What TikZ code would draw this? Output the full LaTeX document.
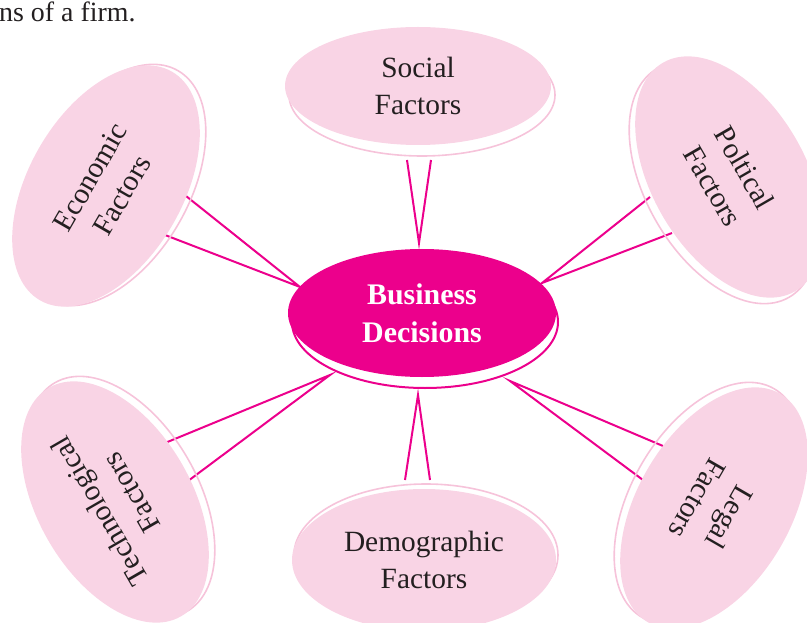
\documentclass[tikz,border=0pt]{standalone}
\usepackage{fontspec}
\setmainfont{Liberation Serif}
\usetikzlibrary{shapes.geometric}
\definecolor{pinkfill}{HTML}{F9D4E5}
\definecolor{pinkline}{HTML}{F6C3DA}
\definecolor{mag}{HTML}{EC008C}
\definecolor{txt}{HTML}{231F20}
\tikzset{
  factor/.style={ellipse, fill=pinkfill, inner sep=0pt, align=center,
    minimum width=264bp, minimum height=154bp,
    font=\fontsize{29.5}{37}\selectfont, text=txt},
  outl/.style={draw=pinkline, line width=1.6bp},
  conn/.style={draw=mag, line width=2bp},
  hub/.style={ellipse, fill=mag, inner sep=0pt, align=center,
    minimum width=268bp, minimum height=128bp,
    font=\fontsize{30}{38}\selectfont\bfseries, text=white}
}
\begin{document}
\begin{tikzpicture}[x=1bp,y=-1bp]
\useasboundingbox (0,0) rectangle (807,623);
% intro text
\node[anchor=base west, inner sep=0pt, font=\fontsize{28}{32}\selectfont, text=txt] (intro) at (-1,22) {ns of a firm.};
% connector coordinates
\coordinate (s1) at (407,160); \coordinate (s2) at (431,160); \coordinate (sa) at (419,243);
\coordinate (e1) at (186,196); \coordinate (e2) at (165,235); \coordinate (ea) at (300,287);
\coordinate (p1) at (650,197); \coordinate (p2) at (672,233); \coordinate (pa) at (542,283);
\coordinate (t1) at (165,443); \coordinate (t2) at (188,481); \coordinate (ta) at (330,375);
\coordinate (d1) at (405,480); \coordinate (d2) at (430,480); \coordinate (da) at (418,395);
\coordinate (l1) at (663,446); \coordinate (l2) at (643,480); \coordinate (la) at (510,381);
\draw[conn] (s1) -- (sa) -- (s2);
\draw[conn] (e1) -- (ea) -- (e2);
\draw[conn] (p1) -- (pa) -- (p2);
\draw[conn] (t1) -- (ta) -- (t2);
\draw[conn] (d1) -- (da) -- (d2);
\draw[conn] (l1) -- (la) -- (l2);
% outline shadows
\draw[outl] (422,95) ellipse [x radius=133, y radius=61];
\draw[outl] (426,555) ellipse [x radius=132, y radius=71];
\draw[outl, rotate around={60:(112,185)}] (112,185) ellipse [x radius=132, y radius=77];
\draw[outl, rotate around={-60:(723,183)}] (723,183) ellipse [x radius=132, y radius=77];
\draw[outl, rotate around={-60:(121,497)}] (121,497) ellipse [x radius=132, y radius=77];
\draw[outl, rotate around={60:(708,503)}] (708,503) ellipse [x radius=132, y radius=77];
\draw[draw=mag, line width=2bp] (425,322) ellipse [x radius=133, y radius=66];
% nodes
\node[hub] (hub) at (422,313) {Business\\Decisions};
\node[factor, minimum width=266bp, minimum height=118bp] (soc) at (418,86) {Social\\Factors};
\node[factor, minimum height=142bp] (dem) at (424,560) {Demographic\\Factors};
\node[factor, rotate=60] (eco) at (106,186) {Economic\\Factors};
\node[factor, rotate=-60] (pol) at (729,177) {Poltical\\Factors};
\node[factor, rotate=120] (tec) at (115,502) {Technological\\Factors};
\node[factor, rotate=240] (leg) at (714,508) {Legal\\Factors};
\end{tikzpicture}
\end{document}
